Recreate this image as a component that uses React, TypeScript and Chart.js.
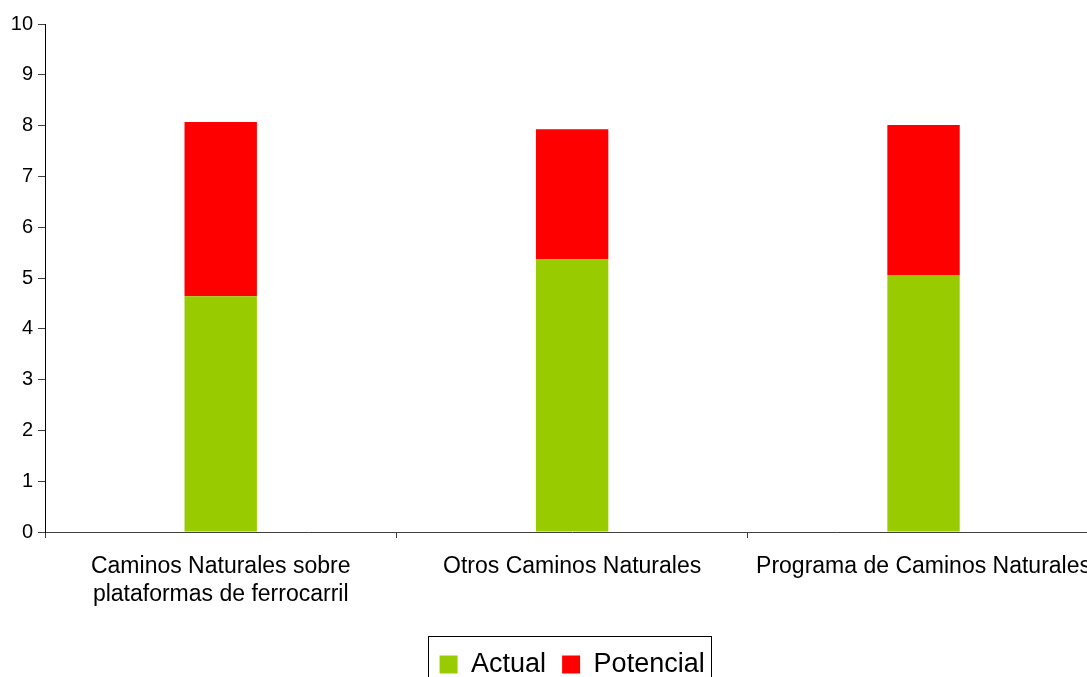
import React, { useEffect, useRef } from "react";
import { Chart, registerables } from "chart.js";

Chart.register(...registerables);

const categories: (string | string[])[] = [
  ["Caminos Naturales sobre", "plataformas de ferrocarril"],
  "Otros Caminos Naturales",
  "Programa de Caminos Naturales",
];
const actualValues = [4.64, 5.37, 5.06];
const potencialValues = [3.43, 2.56, 2.95];
const yMin = 0;
const yMax = 10;
const yStep = 1;

const FONT = "'Liberation Sans', Arial, Helvetica, sans-serif";

const legendBorder = {
  id: "legendBorder",
  afterDraw(chart: any) {
    const lg = chart.legend;
    if (!lg || !lg.legendHitBoxes || !lg.legendHitBoxes.length) return;
    const hb = lg.legendHitBoxes;
    let l = Infinity, r = -Infinity, t = Infinity, b = -Infinity;
    hb.forEach((h: any) => {
      l = Math.min(l, h.left);
      r = Math.max(r, h.left + h.width);
      t = Math.min(t, h.top);
      b = Math.max(b, h.top + h.height);
    });
    const ctx = chart.ctx;
    ctx.save();
    ctx.strokeStyle = "#000";
    ctx.lineWidth = 1;
    ctx.strokeRect(Math.round(l - 12) + 0.5, Math.round(t - 15) + 0.5, Math.round(r - l + 18), Math.round(b - t + 30));
    ctx.restore();
  },
};

export default function App() {
  const ref = useRef<HTMLCanvasElement>(null);
  useEffect(() => {
    if (!ref.current) return;
    const chart = new Chart(ref.current, {
      type: "bar",
      data: {
        labels: categories,
        datasets: [
          { label: "Actual", data: actualValues, backgroundColor: "#99CC00", borderWidth: 0 },
          { label: "Potencial", data: potencialValues, backgroundColor: "#FF0000", borderWidth: 0 },
        ],
      },
      options: {
        animation: false,
        responsive: false,
        layout: { padding: { top: 24, right: 0, left: 0, bottom: 0 } },
        datasets: { bar: { categoryPercentage: 1, barPercentage: 0.206 } } as any,
        plugins: {
          tooltip: { enabled: false },
          legend: {
            position: "bottom",
            fullSize: false,
            labels: {
              font: { family: FONT, size: 27 },
              color: "#000",
              boxWidth: 18,
              boxHeight: 18,
              padding: 16,
            },
          },
        },
        scales: {
          x: {
            stacked: true,
            grid: {
              offset: true,
              drawOnChartArea: false,
              drawTicks: true,
              tickLength: 6,
              color: "#404040",
            },
            border: { color: "#404040", width: 1 },
            ticks: {
              font: { family: FONT, size: 23 },
              color: "#000",
              padding: 15,
              maxRotation: 0,
              autoSkip: false,
            },
            afterFit: (s: any) => { s.height = 103; },
          },
          y: {
            stacked: true,
            min: yMin,
            max: yMax,
            grid: {
              drawOnChartArea: false,
              drawTicks: true,
              tickLength: 7,
              color: "#404040",
            },
            border: { color: "#000", width: 1 },
            ticks: {
              stepSize: yStep,
              font: { family: FONT, size: 20 },
              color: "#000",
              padding: 5,
            },
            afterFit: (s: any) => { s.width = 45; },
          },
        },
      },
      plugins: [legendBorder],
    });
    return () => chart.destroy();
  }, []);
  return (
    <div style={{ position: "fixed", left: 0, top: 0, width: 1087, height: 677, overflow: "hidden", background: "#fff" }}>
      <canvas ref={ref} width={1106} height={688} style={{ display: "block" }} />
    </div>
  );
}
